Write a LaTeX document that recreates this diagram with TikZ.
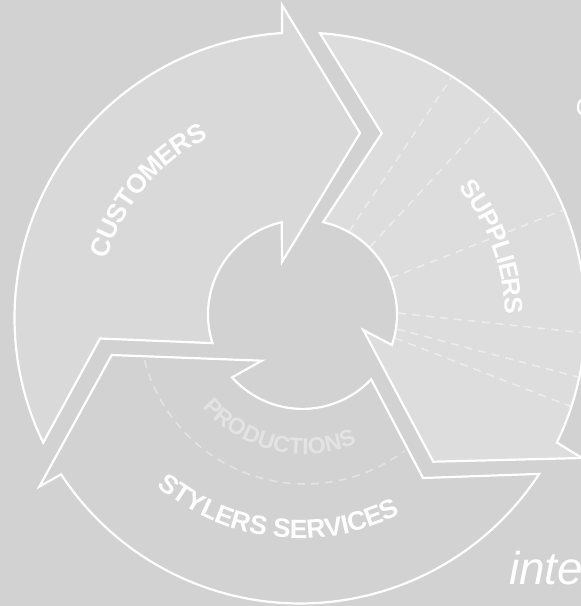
\documentclass[tikz,border=0pt]{standalone}
\usepackage{fontspec}
\setmainfont{Liberation Sans}
\usetikzlibrary{calc,decorations.text}
\definecolor{bg}{RGB}{210,210,210}
\definecolor{custc}{RGB}{217,217,217}
\definecolor{suppc}{RGB}{221,221,221}
\definecolor{dashc}{RGB}{236,236,236}
\definecolor{prodc}{RGB}{227,227,227}
\begin{document}
\begin{tikzpicture}[x=1pt,y=1pt,
  seg/.style={draw=white, line width=2.2pt, line join=miter},
  dashln/.style={draw=dashc, line width=1.6pt, dash pattern=on 8pt off 6pt},
  arctext/.style={decorate, decoration={text along path, text align=center, text color=#1}},
  ]
\useasboundingbox (0,0) rectangle (581,606);
\fill[bg] (0,0) rectangle (581,606);
\clip (0,0) rectangle (581,606);
\coordinate (O) at (300,288);
\coordinate (I) at (302.5,291.6);
\coordinate (P) at (305,288);
% customers
\coordinate (A8) at ($(O)+(205.9:285.5)$);
\coordinate (A2) at (282,601);
\coordinate (A3) at (360,473);
\coordinate (A4) at (282,344);
\coordinate (A5) at ($(I)+(102.7:94.5)$);
\coordinate (A7) at (100,267.5);
\path[seg, fill=custc] (A8) arc[start angle=205.9, end angle=93.6, radius=285.5]
  -- (A2) -- (A3) -- (A4) -- (A5) arc[start angle=102.7, end angle=197.7, radius=94.5]
  -- (A7) -- cycle;
% suppliers
\coordinate (C1) at ($(O)+(86:285.5)$);
\coordinate (C2) at (381.7,472.7);
\coordinate (C3) at ($(I)+(77.4:94.5)$);
\coordinate (C5) at (363.3,276);
\coordinate (C6) at (433.3,144.3);
\coordinate (C7) at (582,148);
\coordinate (C8) at ($(O)+(-25.85:285.5)$);
\path[seg, fill=suppc] (C1) -- (C2) -- (C3) arc[start angle=77.4, end angle=-18.9, radius=94.5]
  -- (C5) -- (C6) -- (C7) -- (C8) arc[start angle=-25.85, end angle=86, radius=285.5] -- cycle;
% stylers services
\coordinate (B8) at ($(O)+(-33.1:285.5)$);
\coordinate (B2) at (39.3,119.3);
\coordinate (B3) at (111.7,251);
\coordinate (B4) at (261.7,245.3);
\coordinate (B5) at ($(I)+(221.8:94.5)$);
\coordinate (B7) at (423,128);
\path[seg, fill=bg] (B8) arc[start angle=-33.1, end angle=-146.8, radius=285.5]
  -- (B2) -- (B3) -- (B4) -- (B5) arc[start angle=221.8, end angle=316.6, radius=94.5]
  -- (B7) -- cycle;
% dashed dividers in suppliers
\draw[dashln] ($(I)+(60.6:95.5)$) -- ($(O)+(57.8:284.5)$);
\draw[dashln] ($(I)+(45:95.5)$) -- ($(O)+(46.7:284.5)$);
\draw[dashln] ($(I)+(22.4:95.5)$) -- ($(O)+(22.3:284.5)$);
\draw[dashln] ($(I)+(0.8:95.5)$) -- ($(O)+(-3:284.5)$);
\draw[dashln] ($(I)+(-8.8:95.5)$) -- ($(O)+(-12:284.5)$);
\draw[dashln] ($(I)+(-14.3:95.5)$) -- ($(O)+(-18.1:284.5)$);
% dashed arc in stylers
\draw[dashln, draw=prodc] ($(P)+(194.7:166)$) arc[start angle=194.7, end angle=306.8, radius=166];
% labels
\path[arctext=white, decoration={raise=-9.1pt, text={|\fontsize{26.5}{26.5}\selectfont\bfseries|CUSTOMERS}}]
  ($(O)+(210:211.1)$) arc[start angle=210, end angle=70, radius=211.1];
\path[arctext=white, decoration={raise=-13.1pt, text={|\fontsize{25.5}{25.5}\selectfont\bfseries|SUPPLIERS}}]
  ($(O)+(70.24:218.1)$) arc[start angle=70.24, end angle=-29.76, radius=218.1];
\path[arctext=white, decoration={raise=3.1pt, text={|\fontsize{26.5}{26.5}\selectfont\bfseries|STYLERS SERVICES}}]
  ($(O)+(193.4:223.6)$) arc[start angle=193.4, end angle=333.4, radius=223.6];
\path[arctext=prodc, decoration={text={|\fontsize{23}{23}\selectfont\bfseries|PRODUCTIONS}}]
  ($(P)+(196.75:136)$) arc[start angle=196.75, end angle=316.75, radius=136];
\node[anchor=base west, inner sep=0, text=white, font=\fontsize{26}{26}\selectfont] (ctxt) at (575.5,489) {C};
\node[anchor=base west, inner sep=0, text=white, font=\fontsize{46}{46}\selectfont\itshape] (itxt) at (509,21) {inte};
\end{tikzpicture}
\end{document}
